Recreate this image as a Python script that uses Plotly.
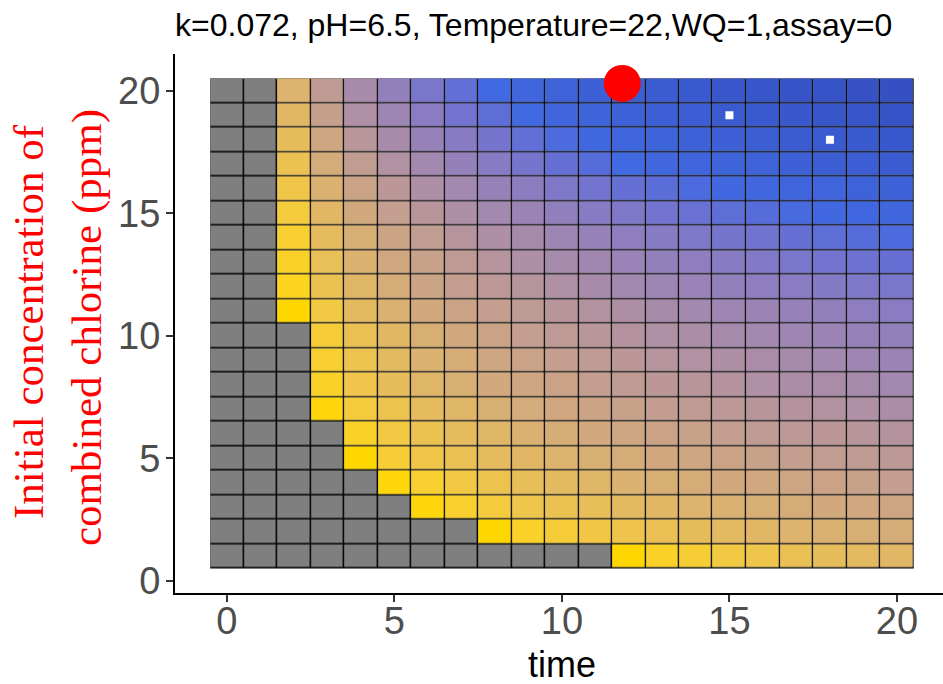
import plotly.graph_objects as go

# ---------------- data ----------------
time = list(range(0, 21))           # x categories (time)
conc = list(range(1, 21))           # y categories (initial combined chlorine, ppm)
N = None                             # not achieved -> grey tile

conc_01 = [N]*12 + [.00, .05, .08, .12, .15, .19, .22, .24, .27]
conc_02 = [N]*8 + [.00, .05, .09, .13, .16, .19, .22, .25, .27, .30, .32, .34, .36]
conc_03 = [N]*6 + [.01, .06, .10, .15, .18, .21, .24, .27, .30, .32, .34, .36, .38, .40, .42]
conc_04 = [N]*5 + [.01, .07, .12, .17, .21, .24, .28, .31, .33, .36, .38, .40, .42, .44, .46, .48]
conc_05 = [N]*4 + [.00, .08, .14, .19, .23, .27, .30, .33, .36, .39, .41, .44, .46, .48, .50, .51, .53]
conc_06 = [N]*4 + [.05, .12, .18, .23, .28, .32, .35, .38, .41, .44, .46, .48, .51, .53, .54, .56, .58]
conc_07 = [N]*3 + [.01, .10, .17, .23, .28, .33, .37, .40, .43, .46, .49, .51, .53, .56, .58, .59, .61, .63]
conc_08 = [N]*3 + [.05, .15, .22, .28, .33, .38, .41, .45, .48, .51, .54, .56, .58, .61, .63, .64, .66, .68]
conc_09 = [N]*3 + [.07, .17, .24, .31, .36, .41, .45, .48, .51, .54, .57, .60, .62, .64, .66, .68, .70, .72]
conc_10 = [N]*3 + [.09, .19, .27, .33, .39, .44, .48, .52, .55, .58, .61, .63, .66, .68, .70, .72, .74, .76]
conc_11 = [N]*2 + [.00, .12, .24, .32, .38, .44, .48, .52, .56, .59, .62, .65, .68, .70, .72, .74, .76, .78, .80]
conc_12 = [N]*2 + [.03, .18, .28, .36, .43, .48, .53, .57, .61, .65, .68, .71, .73, .76, .78, .80, .82, .84, .86]
conc_13 = [N]*2 + [.05, .20, .31, .40, .46, .52, .57, .62, .66, .69, .73, .76, .78, .81, .83, .86, .88, .90, .92]
conc_14 = [N]*2 + [.07, .23, .34, .43, .50, .57, .62, .66, .71, .74, .78, .81, .84, .87, .89, .92, .94, .96, .98]
conc_15 = [N]*2 + [.10, .27, .39, .48, .56, .62, .68, .72, .77, .81, .84, .88, .91, .94, .96, .99, 1.01, 1.03, 1.06]
conc_16 = [N]*2 + [.14, .32, .44, .54, .62, .68, .74, .79, .84, .88, .92, .95, .98, 1.01, 1.04, 1.07, 1.09, 1.12, 1.14]
conc_17 = [N]*2 + [.18, .37, .50, .60, .68, .75, .81, .87, .92, .96, 1.00, 1.04, 1.07, 1.10, 1.13, 1.16, 1.19, 1.21, 1.23]
conc_18 = [N]*2 + [.22, .41, .55, .65, .74, .81, .87, .93, .98, 1.02, 1.06, 1.10, 1.14, 1.17, 1.20, 1.23, 1.25, 1.28, 1.30]
conc_19 = [N]*2 + [.27, .47, .61, .71, .80, .88, .94, 1.00, 1.05, 1.10, 1.14, 1.18, 1.21, 1.25, 1.28, 1.31, 1.34, 1.36, 1.39]
conc_20 = [N]*2 + [.30, .51, .65, .76, .86, .93, 1.00, 1.06, 1.11, 1.16, 1.20, 1.24, 1.28, 1.32, 1.35, 1.38, 1.41, 1.44, 1.46]

opt_time = [11.8]        # red point
opt_conc = [20.3]
obs_time = [15, 18]      # white markers
obs_conc = [19, 18]

xticks = [0, 5, 10, 15, 20]
yticks = [0, 5, 10, 15, 20]
title_text = "k=0.072, pH=6.5, Temperature=22,WQ=1,assay=0"

z = [conc_01, conc_02, conc_03, conc_04, conc_05, conc_06, conc_07, conc_08, conc_09, conc_10,
     conc_11, conc_12, conc_13, conc_14, conc_15, conc_16, conc_17, conc_18, conc_19, conc_20]
z = [[float('nan') if v is None else v for v in row] for row in z]

# ---------------- colour scale (Lab interpolation like ggplot) ----------------
def srgb_to_lab(rgb):
    lin = []
    for c in rgb:
        c = c / 255.0
        lin.append(((c + 0.055) / 1.055) ** 2.4 if c > 0.04045 else c / 12.92)
    X = 0.4124 * lin[0] + 0.3576 * lin[1] + 0.1805 * lin[2]
    Y = 0.2126 * lin[0] + 0.7152 * lin[1] + 0.0722 * lin[2]
    Z = 0.0193 * lin[0] + 0.1192 * lin[1] + 0.9505 * lin[2]
    def f(t):
        return t ** (1 / 3) if t > 0.008856 else 7.787 * t + 16 / 116
    fx, fy, fz = f(X / 0.95047), f(Y / 1.0), f(Z / 1.08883)
    return (116 * fy - 16, 500 * (fx - fy), 200 * (fy - fz))

def lab_to_srgb(lab):
    L, a, b = lab
    fy = (L + 16) / 116
    fx = fy + a / 500
    fz = fy - b / 200
    def finv(t):
        return t ** 3 if t ** 3 > 0.008856 else (t - 16 / 116) / 7.787
    X, Y, Z = 0.95047 * finv(fx), 1.0 * finv(fy), 1.08883 * finv(fz)
    r = 3.2406 * X - 1.5372 * Y - 0.4986 * Z
    g = -0.9689 * X + 1.8758 * Y + 0.0415 * Z
    bb = 0.0557 * X - 0.2040 * Y + 1.0570 * Z
    out = []
    for c in (r, g, bb):
        c = max(0.0, min(1.0, c))
        c = 1.055 * c ** (1 / 2.4) - 0.055 if c > 0.0031308 else 12.92 * c
        out.append(int(round(max(0, min(1, c)) * 255)))
    return "rgb(%d,%d,%d)" % tuple(out)

def lerp_lab(c1, c2, t):
    l1, l2 = srgb_to_lab(c1), srgb_to_lab(c2)
    return lab_to_srgb(tuple(l1[i] + (l2[i] - l1[i]) * t for i in range(3)))

gold = (255, 215, 0)
royal = (65, 105, 225)
deep = (52, 80, 194)
vmax = max(v for row in z for v in row if v == v)
cs = []
n1 = 40
for i in range(n1 + 1):
    t = i / n1
    cs.append([t * 1.0 / vmax, lerp_lab(gold, royal, t)])
n2 = 12
for i in range(1, n2 + 1):
    t = i / n2
    v = 1.0 + t * (vmax - 1.0)
    cs.append([min(1.0, v / vmax), lerp_lab(royal, deep, t)])
cs[-1][0] = 1.0

fig = go.Figure()

# grey background tiles (NA)
fig.add_trace(go.Heatmap(
    x=time, y=conc, z=[[1] * len(time) for _ in conc],
    colorscale=[[0, "#7F7F7F"], [1, "#7F7F7F"]], showscale=False,
    xgap=1.5, ygap=1.5, hoverinfo="skip"))

fig.add_trace(go.Heatmap(
    x=time, y=conc, z=z, zmin=0, zmax=vmax, colorscale=cs, showscale=False,
    xgap=1.5, ygap=1.5, hoverongaps=False))

fig.add_trace(go.Scatter(x=opt_time, y=opt_conc, mode="markers",
                         marker=dict(color="#FF0000", size=37, line=dict(width=0)),
                         showlegend=False))
fig.add_trace(go.Scatter(x=obs_time, y=obs_conc, mode="markers",
                         marker=dict(color="white", size=8, symbol="square", line=dict(width=0)),
                         showlegend=False))

# black tile borders
fig.add_shape(type="rect", layer="below",
              x0=min(time) - 0.5, x1=max(time) + 0.5,
              y0=min(conc) - 0.5, y1=max(conc) + 0.5,
              fillcolor="black", line=dict(width=0))

axis_common = dict(showgrid=False, zeroline=False, showline=True, linecolor="black", linewidth=2,
                   ticks="outside", ticklen=7, tickwidth=2, tickcolor="#333333",
                   tickfont=dict(family="Liberation Sans, Arial", size=38, color="#4D4D4D"))

fig.update_layout(
    width=943, height=684,
    margin=dict(l=175, r=0, t=54, b=91),
    paper_bgcolor="white", plot_bgcolor="white",
    showlegend=False,
    title=dict(text=title_text, x=0, xref="paper", xanchor="left",
               y=1 - 25 / 684, yref="container", yanchor="middle",
               font=dict(family="Liberation Sans, Arial", size=32, color="black")),
    xaxis=dict(range=[-1.55, 21.375], tickvals=xticks, ticklabelstandoff=-14, **axis_common),
    yaxis=dict(range=[-0.5, 21.5], tickvals=yticks, ticklabelstandoff=-2, **axis_common),
)

# axis titles
fig.add_annotation(text="time", x=10, xref="x", y=-71 / 539, yref="paper",
                   showarrow=False, xanchor="center", yanchor="middle",
                   font=dict(family="Liberation Sans, Arial", size=36, color="black"))
ytitle_font = dict(family="Liberation Serif, Times New Roman", size=43, color="#FF0000")
fig.add_annotation(text="Initial concentration of", textangle=-90,
                   x=(28 - 175) / 768, xref="paper", y=(593 - 322) / 539, yref="paper",
                   showarrow=False, xanchor="center", yanchor="middle", font=ytitle_font)
fig.add_annotation(text="combined chlorine (ppm)", textangle=-90,
                   x=(87 - 175) / 768, xref="paper", y=(593 - 328) / 539, yref="paper",
                   showarrow=False, xanchor="center", yanchor="middle", font=ytitle_font)

fig.write_html("out.html")
